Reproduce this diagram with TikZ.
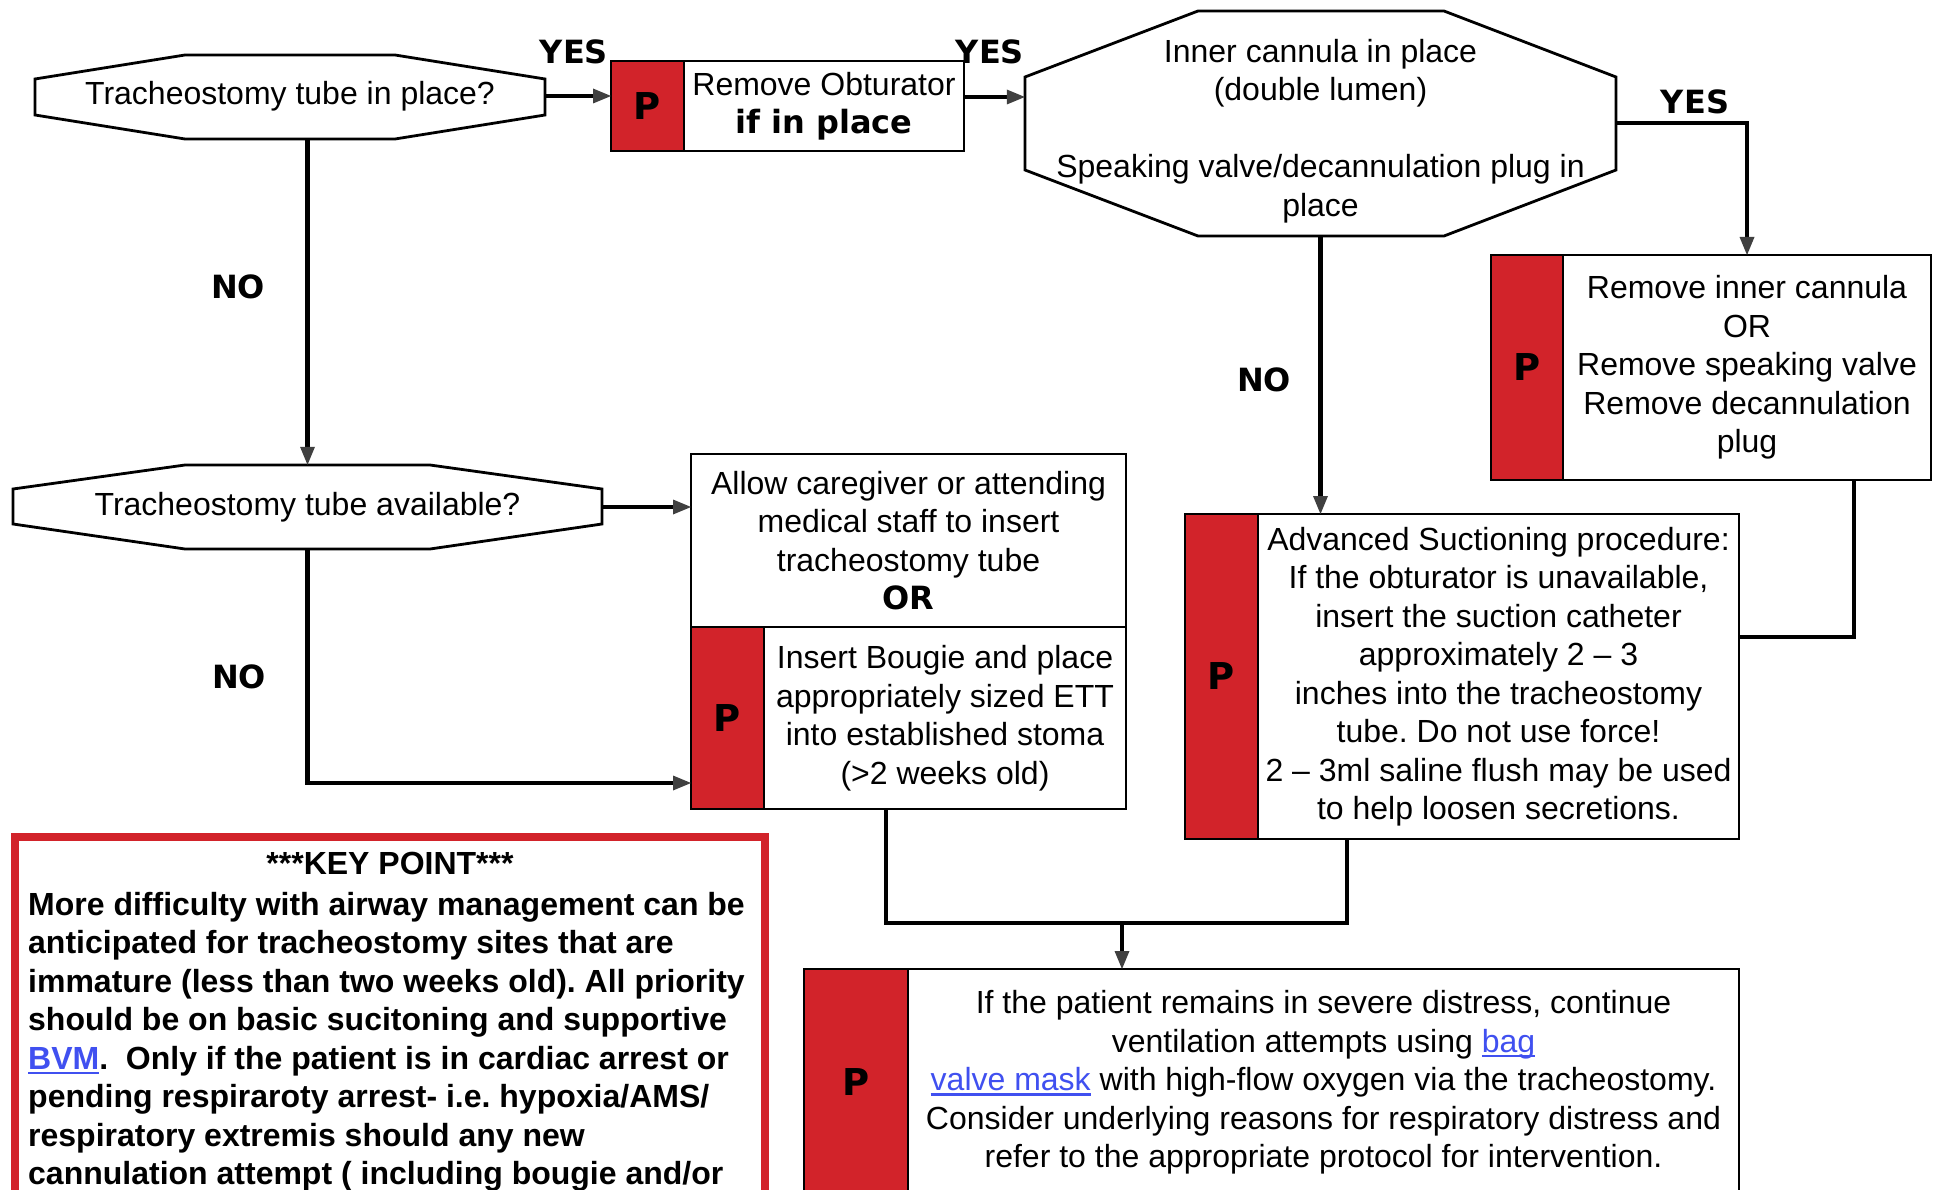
\documentclass[tikz,border=0pt]{standalone}
\usepackage{fontspec}
\setmainfont{Liberation Sans}
\newfontfamily\heavy{DejaVu Sans Bold}
\usetikzlibrary{arrows.meta,positioning}
\definecolor{pred}{RGB}{210,35,42}
\definecolor{tipgray}{RGB}{64,64,64}
\definecolor{linkblue}{RGB}{64,80,240}
\newcommand\bodyfont{\fontsize{32}{38.5}\selectfont}
\newcommand\lnk[1]{\textcolor{linkblue}{\setbox0\hbox{#1}\rlap{\rule[-5pt]{\wd0}{2.5pt}}\box0}}
\frenchspacing
\begin{document}
\begin{tikzpicture}[x=1pt,y=-1pt,font=\bodyfont,
	box/.style={draw,line width=2.8pt,fill=white,align=center,inner sep=0pt,outer sep=0pt},
	pcol/.style={box,fill=pred,font=\heavy\fontsize{37}{40}\selectfont},
	tag/.style={font=\heavy\bodyfont,inner sep=0pt},
	keytxt/.style={font=\bodyfont\bfseries,inner sep=0pt},
	octo/.style={draw,line width=2.8pt,fill=white,line join=miter},
	link/.style={line width=4.5pt},
	arr/.style={link,-{Triangle[length=18pt,width=15pt,line width=0pt,color=tipgray]}}]
	\useasboundingbox (0,0) rectangle (1940,1190);
	\fill[white] (0,0) rectangle (1940,1190);
	\clip (0,0) rectangle (1940,1190);
	% decision octagons
	\draw[octo] (35,79) -- (185,55) -- (395,55) -- (545,79) -- (545,115) -- (395,139) -- (185,139) -- (35,115) -- cycle;
	\draw[octo] (13,489) -- (185,465) -- (430,465) -- (602,489) -- (602,524) -- (430,549) -- (185,549) -- (13,524) -- cycle;
	\draw[octo] (1025,77) -- (1198,11) -- (1444,11) -- (1616,77) -- (1616,170) -- (1444,236) -- (1198,236) -- (1025,170) -- cycle;
	\node[align=center,inner sep=0pt,minimum width=510pt,minimum height=84pt] (q1) at (290,96) {Tracheostomy tube in place?};
	\node[align=center,inner sep=0pt,minimum width=589pt,minimum height=84pt] (q2) at (307.5,507) {Tracheostomy tube available?};
	\node[align=center,inner sep=0pt,minimum width=591pt,minimum height=210pt] (q3) at (1320.5,131) {Inner cannula in place\\(double lumen)\\[38.5pt]Speaking valve/decannulation plug in\\place};
	% protocol boxes
	\node[pcol,minimum width=73pt,minimum height=90pt] (b1p) at (647.5,106) {P};
	\node[box,minimum width=280pt,minimum height=90pt,right=0pt of b1p] (b1) {Remove Obturator\\{\heavy if in place}};
	\node[pcol,minimum width=72pt,minimum height=225pt] (b2p) at (1527,367.5) {P};
	\node[box,minimum width=368pt,minimum height=225pt,right=0pt of b2p] (b2) {Remove inner cannula\\OR\\Remove speaking valve\\Remove decannulation\\plug};
	\node[box,minimum width=435pt,minimum height=173pt] (b3) at (908.5,540.5) {Allow caregiver or attending\\medical staff to insert\\tracheostomy tube\\{\heavy OR}};
	\node[pcol,minimum width=73pt,minimum height=182pt,anchor=north west] (b4p) at (b3.south west) {P};
	\node[box,minimum width=362pt,minimum height=182pt,right=0pt of b4p] (b4) {Insert Bougie and place\\appropriately sized ETT\\into established stoma\\(>2 weeks old)};
	\node[pcol,minimum width=73pt,minimum height=325pt] (b5p) at (1221.5,676.5) {P};
	\node[box,minimum width=481pt,minimum height=325pt,right=0pt of b5p] (b5) {Advanced Suctioning procedure:\\If the obturator is unavailable,\\insert the suction catheter\\approximately 2 – 3\\inches into the tracheostomy\\tube. Do not use force!\\2 – 3ml saline flush may be used\\to help loosen secretions.};
	\node[pcol,minimum width=104pt,minimum height=227pt] (b6p) at (856,1082.5) {P};
	\node[box,minimum width=831pt,minimum height=227pt,right=0pt of b6p] (b6) {If the patient remains in severe distress, continue\\ventilation attempts using \lnk{bag}\\\lnk{valve mask} with high-flow oxygen via the tracheostomy.\\Consider underlying reasons for respiratory distress and\\refer to the appropriate protocol for intervention.};
	% key point
	\draw[pred,line width=8pt] (15,837) rectangle (765,1230);
	\node[keytxt] (kt) at (390,863) {***KEY POINT***};
	\node[keytxt,align=left,anchor=north west] (kb) at (28,892) {More difficulty with airway management can be\\anticipated for tracheostomy sites that are\\immature (less than two weeks old). All priority\\should be on basic sucitoning and supportive\\\lnk{BVM}.~ Only if the patient is in cardiac arrest or\\pending respiraroty arrest- i.e. hypoxia/AMS/\\respiratory extremis should any new\\cannulation attempt ( including bougie and/or};
	% answers
	\node[tag] (yes1) at (574,52) {YES};
	\node[tag] (yes2) at (990,52) {YES};
	\node[tag] (yes3) at (1695,102) {YES};
	\node[tag] (no1) at (238,287) {NO};
	\node[tag] (no2) at (1264,380) {NO};
	\node[tag] (no3) at (239,677) {NO};
	% connectors
	\draw[arr] (q1.east) -- (q1.east -| b1p.west);
	\draw[arr] ([yshift=9pt]b1.east) -- ([yshift=9pt]b1.east -| q3.west);
	\draw[arr] ([yshift=8pt]q3.east) -| (b2.north);
	\draw[arr] (q3.south) -- (q3.south |- b5p.north);
	\draw[link] ([xshift=-77pt]b2.south east) |- ([yshift=39.5pt]b5.east);
	\draw[arr] (q1.south -| q2.north) -- (q2.north);
	\draw[arr] (q2.east) -- (q2.east -| b3.west);
	\draw[arr] (q2.south) |- ([yshift=-65pt]b4p.west);
	\coordinate (j) at (1122,923);
	\draw[link] ([xshift=-59pt]b4.south) |- (j) -| ([xshift=-151.5pt]b5.south);
	\draw[arr] (j) -- (j |- b6.north);
\end{tikzpicture}
\end{document}
